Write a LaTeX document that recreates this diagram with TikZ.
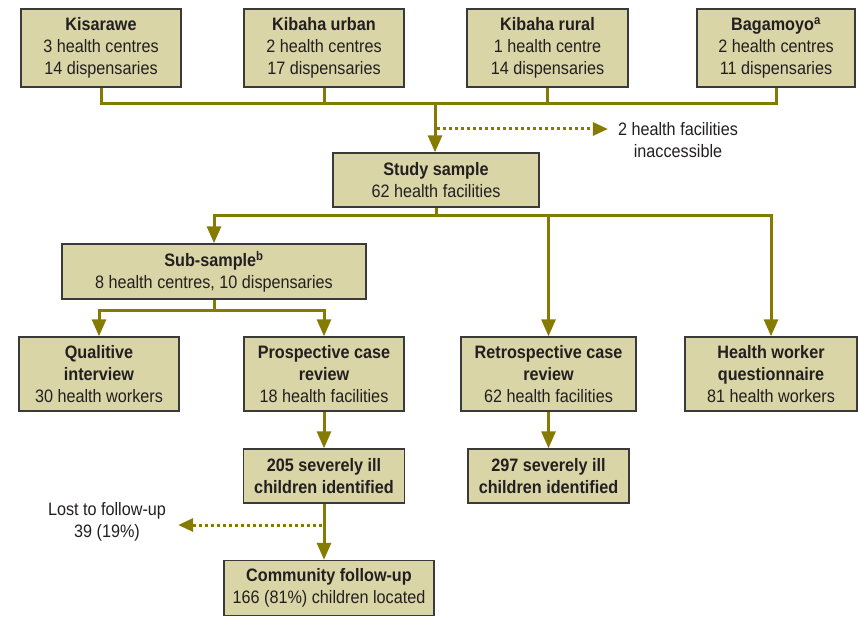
\documentclass[tikz,border=0pt]{standalone}
\usepackage{fontspec}
\setmainfont{Liberation Sans}[FakeStretch=0.9]
\usepackage{xcolor}
\usepackage{tikz}
\usetikzlibrary{calc,arrows.meta}

\definecolor{lineolive}{HTML}{857B00}
\definecolor{boxfill}{HTML}{DAD5A6}
\definecolor{boxedge}{HTML}{3A3A3A}
\definecolor{textdark}{HTML}{231F20}

\begin{document}
\begin{tikzpicture}[x=1pt,y=-1pt,
  every node/.style={font=\fontsize{18}{22}\selectfont, text=textdark},
  box/.style={draw=boxedge, fill=boxfill, line width=1.4pt, align=center, inner sep=0pt},
  link/.style={draw=lineolive, line width=3pt},
  arr/.style={link, -{Triangle[length=17pt,width=14pt]}},
  dotarr/.style={draw=lineolive, line width=3pt, dash pattern=on 3pt off 3pt,
                 -{Triangle[length=15pt,width=13pt]}}
  ]
  \useasboundingbox (0,0) rectangle (858,617);

  % 地区の箱
  \node[box, minimum width=160pt, minimum height=78pt] (kis) at (101,48)
    {\textbf{Kisarawe}\\3 health centres\\14 dispensaries};
  \node[box, minimum width=160pt, minimum height=78pt] (kibu) at (324,48)
    {\textbf{Kibaha urban}\\2 health centres\\17 dispensaries};
  \node[box, minimum width=161pt, minimum height=78pt] (kibr) at (547.5,48)
    {\textbf{Kibaha rural}\\1 health centre\\14 dispensaries};
  \node[box, minimum width=158pt, minimum height=78pt] (bag) at (776,48)
    {\textbf{Bagamoyo\textsuperscript{a}}\\2 health centres\\11 dispensaries};

  % 標本
  \node[box, minimum width=206pt, minimum height=54pt] (study) at (436,180)
    {\textbf{Study sample}\\62 health facilities};
  \node[inner xsep=10pt, inner ysep=0pt, align=center] (inacc) at (678,140)
    {2 health facilities\\inaccessible};
  \node[box, minimum width=304pt, minimum height=55pt] (sub) at (214,271.5)
    {\textbf{Sub-sample\textsuperscript{b}}\\8 health centres, 10 dispensaries};

  % 調査の種類
  \node[box, minimum width=160pt, minimum height=74pt] (qual) at (99,374)
    {\textbf{Qualitive}\\\textbf{interview}\\30 health workers};
  \node[box, minimum width=160pt, minimum height=74pt] (pros) at (324,374)
    {\textbf{Prospective case}\\\textbf{review}\\18 health facilities};
  \node[box, minimum width=175pt, minimum height=74pt] (retro) at (548.5,374)
    {\textbf{Retrospective case}\\\textbf{review}\\62 health facilities};
  \node[box, minimum width=172pt, minimum height=74pt] (hw) at (771,374)
    {\textbf{Health worker}\\\textbf{questionnaire}\\81 health workers};

  % 重症児
  \node[box, minimum width=161pt, minimum height=54pt] (ill205) at (324,476)
    {\textbf{205 severely ill}\\\textbf{children identified}};
  \node[box, minimum width=161pt, minimum height=54pt] (ill297) at (548.5,476)
    {\textbf{297 severely ill}\\\textbf{children identified}};
  \node[inner xsep=12pt, inner ysep=0pt, align=center] (lost) at (107,522)
    {Lost to follow-up\\39 (19\%)};
  \node[box, minimum width=210pt, minimum height=55pt] (comm) at (329,588)
    {\textbf{Community follow-up}\\166 (81\%) children located};

  % 上の連結線
  \coordinate (bus) at (435,104);
  \draw[link] (kis.south) |- (bus) -| (bag.south);
  \draw[link] (kibu.south) -- (kibu.south |- bus);
  \draw[link] (kibr.south) -- (kibr.south |- bus);
  \draw[arr] (bus) -- (bus |- study.north);
  \coordinate (miss) at (437,129);
  \draw[dotarr] (miss) -- (miss -| inacc.west);

  % 標本から分岐
  \coordinate (bus2) at (436,216);
  \draw[link] (study.south) -- (bus2);
  \draw[arr] (bus2) -| (sub.north);
  \draw[arr] (bus2) -| (retro.north);
  \draw[arr] (bus2) -| (hw.north);

  \coordinate (bus3) at (214,310);
  \draw[link] (sub.south) -- (bus3);
  \draw[arr] (bus3) -| (qual.north);
  \draw[arr] (bus3) -| (pros.north);

  % 追跡
  \draw[arr] (pros.south) -- (ill205.north);
  \draw[arr] (retro.south) -- (ill297.north);
  \draw[arr] (ill205.south) -- (ill205.south |- comm.north);
  \coordinate (lossp) at (322,525);
  \draw[dotarr] (lossp) -- (lossp -| lost.east);
\end{tikzpicture}
\end{document}
